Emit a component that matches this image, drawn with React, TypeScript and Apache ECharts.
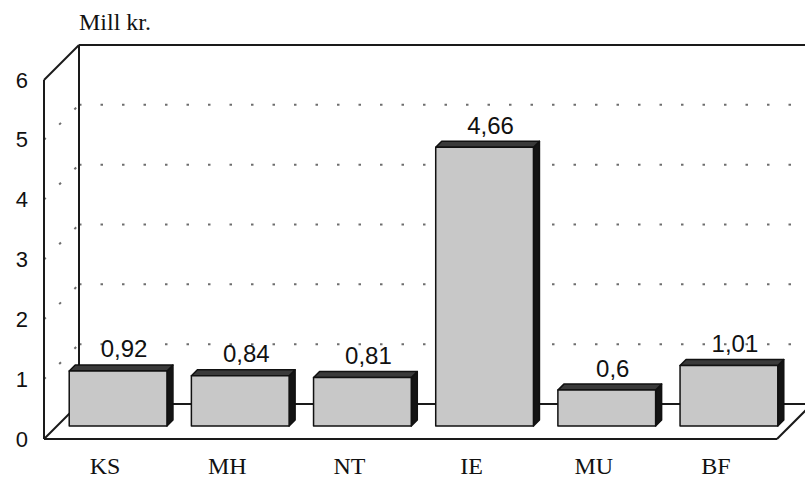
import React, { useEffect, useRef } from "react";
import * as echarts from "echarts";

// Kostnad per enhet, millioner kroner
const categories = ["KS", "MH", "NT", "IE", "MU", "BF"];
const values = [0.92, 0.84, 0.81, 4.66, 0.6, 1.01];
const yTicks = [0, 1, 2, 3, 4, 5, 6];
const unitLabel = "Mill kr.";

// depth of the box (side wall), position of the bars inside it, bar thickness
const WALL_DEPTH = 35;
const BAR_SHIFT = 13;
const BAR_DEPTH = 6;

const LINE = "#1a1a1a";
const DOTS = "#6e6e6e";

const fmt = (v: number) => String(v).replace(".", ",");

export default function App() {
  const ref = useRef<HTMLDivElement>(null);

  useEffect(() => {
    if (!ref.current) return;
    const chart = echarts.init(ref.current, null, { renderer: "svg" });

    const frameItem = (params: any, api: any) => {
      const cs = params.coordSys;
      const left = cs.x;
      const right = cs.x + cs.width;
      const D = WALL_DEPTH;
      const y0 = api.coord([0, yTicks[0]])[1];
      const yTop = api.coord([0, yTicks[yTicks.length - 1]])[1];
      const farRight = right + D + 30;
      const solid = { stroke: LINE, lineWidth: 2, fill: "none" };
      const dotted = {
        stroke: DOTS,
        lineWidth: 2,
        lineDash: [2.5, 19],
        fill: "none",
      };
      const seg = (x1: number, y1: number, x2: number, y2: number, style: any) => ({
        type: "line",
        shape: { x1, y1, x2, y2 },
        style,
      });
      const children: any[] = [];
      // dotted gridlines on the side wall and the back wall
      yTicks.slice(1, -1).forEach((t) => {
        const y = api.coord([0, t])[1];
        children.push(seg(left, y, left + D, y - D, dotted));
        children.push(seg(left + D, y - D, farRight, y - D, dotted));
      });
      // box outline
      children.push(seg(left, y0, left, yTop, solid));
      children.push(seg(left, yTop, left + D, yTop - D, solid));
      children.push(seg(left + D, yTop - D, left + D, y0 - D, solid));
      children.push(seg(left, y0, left + D, y0 - D, solid));
      children.push(seg(left + D, yTop - D, farRight, yTop - D, solid));
      children.push(seg(left + D, y0 - D, farRight, y0 - D, solid));
      children.push(seg(left, y0, right, y0, solid));
      children.push(seg(right, y0, right + D, y0 - D, solid));
      return { type: "group", children };
    };

    const barItem = (_params: any, api: any) => {
      const idx = api.value(0);
      const v = api.value(1);
      const top = api.coord([idx, v]);
      const bot = api.coord([idx, 0]);
      const band = api.size([1, 0])[0];
      const w = band * 0.8;
      const t = BAR_DEPTH;
      const x0 = top[0] - w / 2 + BAR_SHIFT;
      const x1 = x0 + w;
      const yT = top[1] - BAR_SHIFT;
      const yB = bot[1] - BAR_SHIFT;
      const edge = { stroke: "#111", lineWidth: 1.5, lineJoin: "round" };
      return {
        type: "group",
        children: [
          {
            type: "polygon",
            shape: {
              points: [
                [x1, yT],
                [x1 + t, yT - t],
                [x1 + t, yB - t],
                [x1, yB],
              ],
            },
            style: { fill: "#141414", ...edge },
          },
          {
            type: "polygon",
            shape: {
              points: [
                [x0, yT],
                [x0 + t, yT - t],
                [x1 + t, yT - t],
                [x1, yT],
              ],
            },
            style: { fill: "#3a3a3a", ...edge },
          },
          {
            type: "rect",
            shape: { x: x0, y: yT, width: w, height: yB - yT },
            style: { fill: "#c8c8c8", ...edge },
          },
          {
            type: "text",
            x: (x0 + x1) / 2 + t,
            y: yT - t - 4,
            style: {
              text: fmt(v),
              fill: "#111",
              font: "24px 'Liberation Sans', Arial, sans-serif",
              align: "center",
              verticalAlign: "bottom",
            },
          },
        ],
      };
    };

    chart.setOption({
      animation: false,
      backgroundColor: "#ffffff",
      grid: { left: 44, right: 28, top: 80, bottom: 37, containLabel: false },
      xAxis: {
        type: "category",
        data: categories,
        axisLine: { show: false },
        axisTick: { show: false },
        axisLabel: {
          margin: 15,
          fontFamily: "'Liberation Serif', 'Times New Roman', serif",
          fontSize: 24,
          color: "#111",
        },
      },
      yAxis: {
        type: "value",
        min: 0,
        max: 6,
        interval: 1,
        axisLine: { show: false },
        axisTick: { show: false },
        splitLine: { show: false },
        axisLabel: {
          margin: 16,
          fontFamily: "'Liberation Sans', Arial, sans-serif",
          fontSize: 22,
          color: "#111",
        },
      },
      graphic: [
        {
          type: "text",
          left: 79,
          top: 10,
          style: {
            text: unitLabel,
            font: "24px 'Liberation Serif', 'Times New Roman', serif",
            fill: "#111",
          },
        },
      ],
      series: [
        {
          type: "custom",
          z: 1,
          silent: true,
          renderItem: frameItem,
          data: [[0, 0]],
          encode: { x: 0, y: 1 },
        },
        {
          type: "custom",
          z: 2,
          renderItem: barItem,
          data: categories.map((_c, i) => [i, values[i]]),
          encode: { x: 0, y: 1 },
        },
      ],
    });

    return () => chart.dispose();
  }, []);

  return (
    <div
      ref={ref}
      style={{ position: "fixed", left: 0, top: 0, width: 805, height: 478 }}
    />
  );
}
